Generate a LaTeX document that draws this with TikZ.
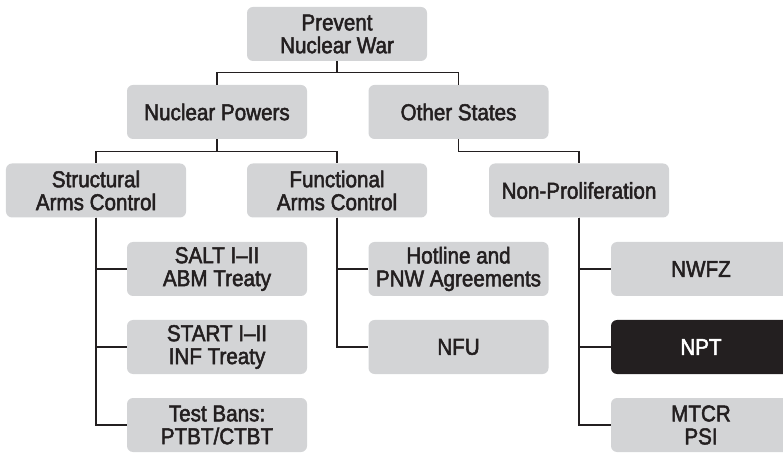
\documentclass[tikz,border=0pt]{standalone}
\usepackage{fontspec}
\setmainfont[FakeStretch=0.9,FakeBold=2.2]{Liberation Sans}
\definecolor{boxgray}{RGB}{211,212,214}
\definecolor{inkblack}{RGB}{35,31,32}

\begin{document}
\begin{tikzpicture}[x=1bp, y=-1bp,
	box/.style={rectangle, rounded corners=6bp, fill=boxgray, text=inkblack, minimum width=180bp, minimum height=54bp, inner sep=0pt, align=center, font=\fontsize{23}{23}\selectfont},
	darkbox/.style={box, fill=inkblack, text=white},
	link/.style={draw=inkblack, line width=1.1bp}]
			\useasboundingbox (0,0) rectangle (783,455);
			
			% Top and second level
			\node[box] (war) at (337,34) {Prevent\\Nuclear War};
			\node[box] (powers) at (217,112) {Nuclear Powers};
			\node[box] (others) at (458.5,112) {Other States};
			
			% Third level
			\node[box] (structural) at (96,190.5) {Structural\\Arms Control};
			\node[box] (functional) at (337,190.5) {Functional\\Arms Control};
			\node[box] (nonprolif) at (579,190.5) {Non-Proliferation};
			
			% Leaves
			\node[box] (salt) at (217,269) {SALT I–II\\ABM Treaty};
			\node[box] (start) at (217,347) {START I–II\\INF Treaty};
			\node[box] (testban) at (217,425) {Test Bans:\\PTBT/CTBT};
			\node[box] (hotline) at (458.5,269) {Hotline and\\PNW Agreements};
			\node[box] (nfu) at (458.5,347) {NFU};
			\node[box] (nwfz) at (701,269) {NWFZ};
			\node[darkbox] (npt) at (701,347) {NPT};
			\node[box] (mtcr) at (701,425) {MTCR\\PSI};
			
			% Tree links
			\draw[link] (war.south) -- ++(0,11) -| (powers.north);
			\draw[link] (war.south) -- ++(0,11) -| (others.north);
			\draw[link] (powers.south) -- ++(0,12) -| (structural.north);
			\draw[link] (powers.south) -- ++(0,12) -| (functional.north);
			\draw[link] (others.south) -- ++(0,12) -| (nonprolif.north);
			
			% Side branches
			\draw[link] (structural.south) |- (salt.west);
			\draw[link] (structural.south) |- (start.west);
			\draw[link] (structural.south) |- (testban.west);
			\draw[link] (functional.south) |- (hotline.west);
			\draw[link] (functional.south) |- (nfu.west);
			\draw[link] (nonprolif.south) |- (nwfz.west);
			\draw[link] (nonprolif.south) |- (npt.west);
			\draw[link] (nonprolif.south) |- (mtcr.west);
\end{tikzpicture}
\end{document}
